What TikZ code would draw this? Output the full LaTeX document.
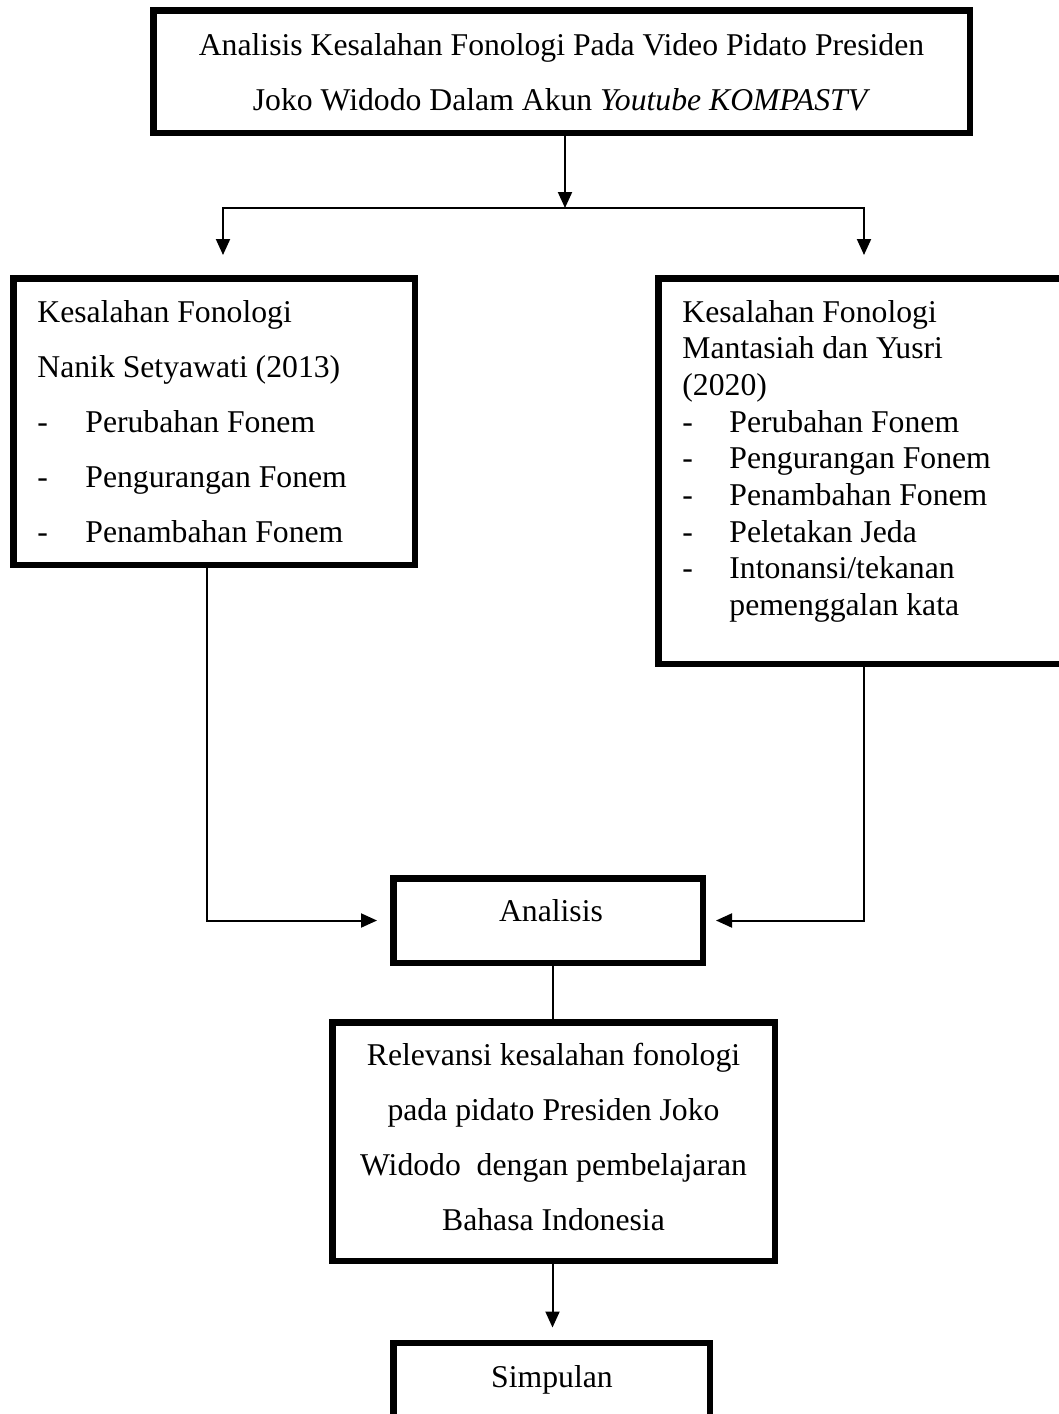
\documentclass[tikz,border=0pt]{standalone}
\usepackage{fontspec}
\setmainfont{Liberation Serif}
\usetikzlibrary{arrows.meta,calc}
\begin{document}
\begin{tikzpicture}[x=0.5pt,y=-0.5pt,
  box/.style={draw, line width=3.25pt, inner sep=0pt},
  conn/.style={line width=1pt},
  tip/.style={-{Triangle[length=8pt,width=7pt]}},
  ltxt/.style={anchor=base west, inner sep=0pt, font=\fontsize{15.85}{19}\selectfont},
  ctxt/.style={anchor=base, inner sep=0pt, font=\fontsize{15.85}{19}\selectfont}]
\useasboundingbox (0,0) rectangle (1059,1414);
% boxes
\node[box, minimum width=408.25pt, minimum height=61.25pt] (top) at (561.5,71.5) {};
\node[box, minimum width=200.75pt, minimum height=143.25pt] (left) at (214,421.5) {};
\node[box, minimum width=204.25pt, minimum height=192.75pt] (right) at (862.5,471) {};
\node[box, minimum width=154.75pt, minimum height=42.25pt] (ana) at (548,920.5) {};
\node[box, minimum width=221.25pt, minimum height=119.25pt] (rel) at (553.5,1141.5) {};
\node[box, minimum width=158.25pt, minimum height=37.25pt] (simp) at (551.5,1380) {};
% texts
\node[ctxt] (t1) at (561.5,55) {Analisis Kesalahan Fonologi Pada Video Pidato Presiden};
\node[ctxt] (t2) at (561.5,110) {Joko Widodo Dalam Akun \textit{Youtube KOMPASTV}};
\node[ltxt] (l1) at (37,322) {Kesalahan Fonologi};
\node[ltxt] (l2) at (37,377) {Nanik Setyawati (2013)};
\node[ltxt] (l3) at (37,432) {\makebox[24pt][l]{-}Perubahan Fonem};
\node[ltxt] (l4) at (37,487) {\makebox[24pt][l]{-}Pengurangan Fonem};
\node[ltxt] (l5) at (37,542) {\makebox[24pt][l]{-}Penambahan Fonem};
\node[ltxt] (r1) at (682,322) {Kesalahan Fonologi};
\node[ltxt] (r2) at (682,358) {Mantasiah dan Yusri};
\node[ltxt] (r3) at (682,395) {(2020)};
\node[ltxt] (r4) at (682,432) {\makebox[23.5pt][l]{-}Perubahan Fonem};
\node[ltxt] (r5) at (682,468) {\makebox[23.5pt][l]{-}Pengurangan Fonem};
\node[ltxt] (r6) at (682,505) {\makebox[23.5pt][l]{-}Penambahan Fonem};
\node[ltxt] (r7) at (682,542) {\makebox[23.5pt][l]{-}Peletakan Jeda};
\node[ltxt] (r8) at (682,578) {\makebox[23.5pt][l]{-}Intonansi/tekanan};
\node[ltxt] (r9) at (682,615) {\makebox[23.5pt][l]{}pemenggalan kata};
\node[ctxt] (a1) at (551,921) {Analisis};
\node[ctxt] (e1) at (553.5,1065) {Relevansi kesalahan fonologi};
\node[ctxt] (e2) at (553.5,1120) {pada pidato Presiden Joko};
\node[ctxt] (e3) at (553.5,1175) {Widodo\ \ dengan pembelajaran};
\node[ctxt] (e4) at (553.5,1230) {Bahasa Indonesia};
\node[ctxt] (s1) at (552,1387) {Simpulan};
% coordinates
\coordinate (split) at (565,208);
\coordinate (la) at (223,255);
\coordinate (ra) at (864,255);
\coordinate (lbx) at (207,0);
\coordinate (rbx) at (864,0);
\coordinate (cx) at (552.5,0);
% connectors
\draw[conn,tip] (split |- top.south) -- (split);
\draw[conn,tip] (split) -| (la);
\draw[conn,tip] (split) -| (ra);
\draw[conn,tip,shorten >=6.5pt] (left.south -| lbx) |- (ana.west);
\draw[conn,tip,shorten >=5pt] (right.south -| rbx) |- (ana.east);
\draw[conn] (ana.south -| cx) -- (rel.north -| cx);
\draw[conn,tip,shorten >=6pt] (rel.south -| cx) -- (simp.north -| cx);
\end{tikzpicture}
\end{document}
